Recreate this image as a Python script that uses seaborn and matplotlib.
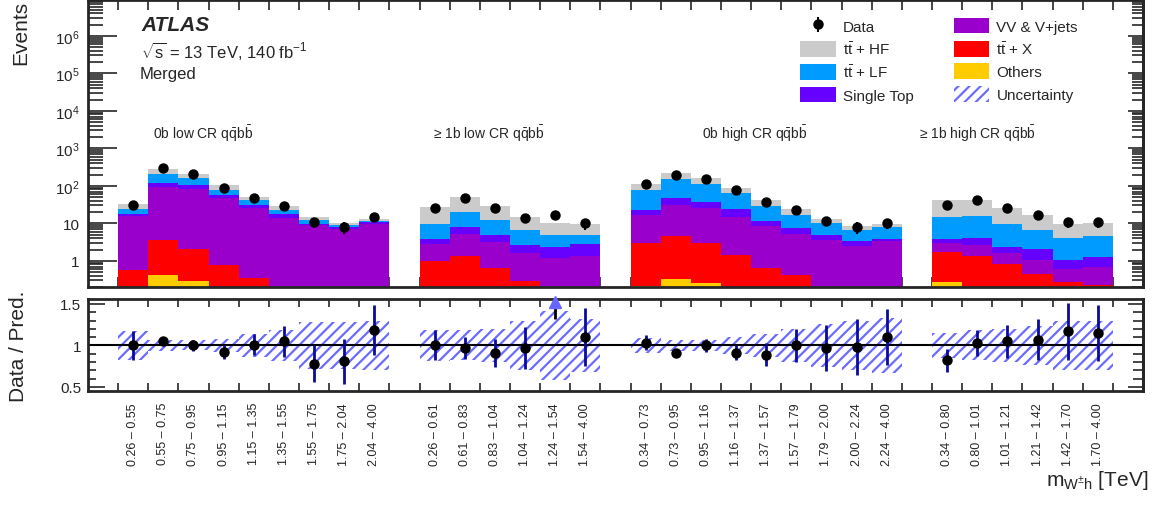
import numpy as np
import pandas as pd
import matplotlib
matplotlib.use('Agg')
import matplotlib.pyplot as plt
from matplotlib.patches import Patch
from matplotlib.ticker import FixedLocator, FuncFormatter, LogLocator, MultipleLocator, NullFormatter
import seaborn as sns

# --- data ---
region_names = ['0b low CR', '\u2265 1b low CR', '0b high CR', '\u2265 1b high CR']
r1_edges = ['0.26', '0.55', '0.75', '0.95', '1.15', '1.35', '1.55', '1.75', '2.04', '4.00']
r2_edges = ['0.26', '0.61', '0.83', '1.04', '1.24', '1.54', '4.00']
r3_edges = ['0.34', '0.73', '0.95', '1.16', '1.37', '1.57', '1.79', '2.00', '2.24', '4.00']
r4_edges = ['0.34', '0.80', '1.01', '1.21', '1.42', '1.70', '4.00']

# per-process yields, bins of the four regions in a row (9 + 6 + 9 + 6)
others = [0, 0.42, 0.29, 0, 0, 0, 0, 0, 0,
          0, 0, 0, 0, 0, 0,
          0.21, 0.33, 0.26, 0, 0, 0, 0, 0, 0,
          0.27, 0, 0, 0, 0, 0]
ttx = [0.58, 3.2, 1.84, 0.78, 0.35, 0, 0, 0, 0,
       0.96, 1.33, 0.64, 0.29, 0, 0,
       2.8, 4.3, 2.74, 1.47, 0.64, 0.42, 0, 0, 0,
       1.46, 1.38, 0.8, 0.45, 0.27, 0.23]
vv = [14.8, 89, 80, 46, 25.3, 14.2, 9.1, 7.1, 9.6,
      1.82, 3.8, 2.5, 1.28, 1.2, 1.33,
      13.7, 25.7, 22.2, 13.3, 7.9, 4.9, 3.7, 2.5, 3.4,
      1.27, 1.2, 0.8, 0.57, 0.35, 0.45]
single_top = [2.0, 26, 23, 11, 5.7, 3.6, 0.7, 0.8, 1.1,
              1.07, 2.9, 1.8, 1.09, 1.2, 1.45,
              6.5, 16.7, 11.8, 9.2, 3.1, 2.2, 1.1, 0.84, 0.4,
              0.85, 1.5, 0.76, 1.06, 0.46, 0.62]
tt_lf = [7.2, 87, 53, 21, 9.6, 5.4, 2.5, 1.2, 1.1,
         5.65, 12.1, 7.4, 3.84, 2.5, 2.1,
         54, 104, 77, 40, 17.4, 9.5, 5.5, 3.36, 4.1,
         11.3, 11.6, 7.1, 4.6, 3.0, 3.2]
tt_hf = [8.8, 74, 48, 26, 10, 5.8, 2.2, 1.2, 1.0,
         17.3, 31, 16.7, 8.3, 5.4, 4.6,
         37, 72, 44, 25, 12, 7.1, 2.5, 1.8, 1.6,
         26, 26, 16, 9.7, 5.5, 5.5]
data = [31.6, 292, 201, 89, 48, 28.5, 10.7, 7.9, 14.8,
        25.7, 48, 25.7, 13.8, 17, 10,
        110, 198, 151, 79, 36.4, 22.7, 11.8, 7.9, 10,
        31.6, 41, 25.7, 17, 10.9, 10.9]
ratio = [1.00, 1.05, 1.00, 0.92, 1.01, 1.05, 0.78, 0.81, 1.19,
         1.00, 0.97, 0.91, 0.97, 1.75, 1.10,
         1.03, 0.91, 1.00, 0.91, 0.89, 1.00, 0.97, 0.98, 1.10,
         0.82, 1.03, 1.05, 1.07, 1.17, 1.15]
ratio_err = [0.17, 0.03, 0.07, 0.08, 0.13, 0.19, 0.22, 0.27, 0.30,
             0.18, 0.13, 0.17, 0.25, 0.43, 0.35,
             0.09, 0.04, 0.08, 0.09, 0.14, 0.20, 0.28, 0.34, 0.34,
             0.14, 0.16, 0.20, 0.25, 0.34, 0.34]
syst = [0.17, 0.07, 0.06, 0.08, 0.14, 0.19, 0.28, 0.28, 0.30,
        0.19, 0.18, 0.20, 0.30, 0.42, 0.32,
        0.09, 0.07, 0.07, 0.10, 0.14, 0.20, 0.26, 0.30, 0.33,
        0.15, 0.18, 0.20, 0.24, 0.30, 0.30]

processes = ['tt_hf', 'tt_lf', 'single_top', 'vv', 'ttx', 'others']  # top -> bottom
colors = {'tt_hf': '#cbcbcb', 'tt_lf': '#009bff', 'single_top': '#6600ff',
          'vv': '#9900cc', 'ttx': '#ff0000', 'others': '#ffcc00'}
labels = {'tt_hf': r'$\mathrm{t\bar{t}}$ + HF', 'tt_lf': r'$\mathrm{t\bar{t}}$ + LF',
          'single_top': 'Single Top', 'vv': 'VV & V+jets',
          'ttx': r'$\mathrm{t\bar{t}}$ + X', 'others': 'Others'}
yields = {'tt_hf': tt_hf, 'tt_lf': tt_lf, 'single_top': single_top,
          'vv': vv, 'ttx': ttx, 'others': others}

# bin positions: one empty bin before each region and one at the end
all_edges = [r1_edges, r2_edges, r3_edges, r4_edges]
pos, ticklabels = [], []
i = 1
for edges in all_edges:
    for lo, hi in zip(edges[:-1], edges[1:]):
        pos.append(i)
        ticklabels.append(f'{lo} \u2013 {hi}')
        i += 1
    i += 1
nbins = i
pos = np.array(pos)

df = pd.DataFrame([{'bin': p, 'process': k, 'events': yields[k][j]}
                   for k in processes for j, p in enumerate(pos)])

# --- style ---
sns.set_theme(style='ticks')
plt.rcParams['font.family'] = ['Liberation Sans', 'DejaVu Sans']
plt.rcParams['mathtext.fontset'] = 'custom'
plt.rcParams['mathtext.rm'] = 'Liberation Sans'
plt.rcParams['mathtext.it'] = 'Liberation Sans:italic'
plt.rcParams['mathtext.bf'] = 'Liberation Sans:bold'
plt.rcParams['hatch.linewidth'] = 1.6
plt.rcParams['hatch.color'] = '#6b6bff'
plt.rcParams['axes.linewidth'] = 2.0

fig = plt.figure(figsize=(11.59, 5.06), dpi=100)
ax = fig.add_axes([0.0759, 0.4308, 0.9103, 0.567])
ax2 = fig.add_axes([0.0759, 0.2253, 0.9103, 0.1818])

# --- upper panel ---
sns.histplot(data=df, x='bin', weights='events', hue='process', hue_order=processes,
             palette=colors, multiple='stack', discrete=True, shrink=1, element='bars',
             alpha=1, linewidth=0, edgecolor='none', legend=False, ax=ax)
ax.set_yscale('log')
data = np.array(data)
ratio = np.array(ratio)
ratio_err = np.array(ratio_err)
data_err = data * ratio_err / ratio
eb = ax.errorbar(pos, data, yerr=data_err, fmt='o', color='black', ms=6.5,
                 elinewidth=1.5, capsize=0, zorder=5)

ax.set_xlim(-0.5, nbins - 0.5)
ax.set_ylim(0.2, 9e6)
ax.set_xlabel('')
ax.set_ylabel('Events', fontsize=15, loc='top')
ax.yaxis.set_label_coords(-0.055, 1.0)

edges_x = np.arange(0.5, nbins - 0.5)
ax.xaxis.set_major_locator(FixedLocator(edges_x))
ax.tick_params(axis='x', which='both', direction='in', length=7, width=1.2,
               top=True, bottom=True, labelbottom=False)
ax.yaxis.set_major_locator(LogLocator(base=10, numticks=20))
ax.yaxis.set_minor_locator(LogLocator(base=10, subs=np.arange(2, 10), numticks=20))
ax.yaxis.set_minor_formatter(NullFormatter())
ax.yaxis.set_major_formatter(FuncFormatter(
    lambda v, _: '1' if abs(v - 1) < 1e-9 else ('10' if abs(v - 10) < 1e-9
                                               else r'$10^{%d}$' % round(np.log10(v)))))
ax.tick_params(axis='y', which='major', direction='in', length=21, width=1.2,
               labelsize=11, pad=6, right=False)
ax.tick_params(axis='y', which='minor', direction='in', length=11, width=1.2, right=False)
sec = ax.secondary_yaxis('right')
sec.yaxis.set_major_locator(LogLocator(base=10, numticks=20))
sec.yaxis.set_minor_locator(LogLocator(base=10, subs=np.arange(2, 10), numticks=20))
sec.yaxis.set_major_formatter(NullFormatter())
sec.yaxis.set_minor_formatter(NullFormatter())
sec.tick_params(axis='y', which='major', direction='in', length=11, width=1.2, labelright=False)
sec.tick_params(axis='y', which='minor', direction='in', length=8, width=1.2, labelright=False)

# region labels
label_x = [1.66, 10.95, 19.87, 27.07]
for name, lx in zip(region_names, label_x):
    ax.text(lx, 2700, name + r' $\mathrm{q\bar{q}b\bar{b}}$', fontsize=10, va='center', ha='left')

ax.text(0.051, 0.915, 'ATLAS', transform=ax.transAxes, fontsize=15,
        fontweight='bold', fontstyle='italic', va='center')
ax.text(0.050, 0.827, r'$\sqrt{\mathrm{s}}$ = 13 TeV, 140 fb$^{\mathrm{-1}}$',
        transform=ax.transAxes, fontsize=12, va='center')
ax.text(0.049, 0.745, 'Merged', transform=ax.transAxes, fontsize=12, va='center')

handles = [eb] + [Patch(facecolor=colors[k], edgecolor='none') for k in processes[:3]]
handles += [Patch(facecolor=colors[k], edgecolor='none') for k in ['vv', 'ttx', 'others']]
handles += [Patch(facecolor='none', edgecolor='#6b6bff', linewidth=0, hatch='///')]
leg_labels = ['Data'] + [labels[k] for k in processes[:3]]
leg_labels += [labels[k] for k in ['vv', 'ttx', 'others']] + ['Uncertainty']
ax.legend(handles, leg_labels, ncol=2, loc='upper left', bbox_to_anchor=(0.668, 0.965),
          frameon=False, fontsize=11, handlelength=2.3, handleheight=1.2,
          labelspacing=0.42, handletextpad=0.5, columnspacing=2.6, borderpad=0)

# --- ratio panel ---
syst = np.array(syst)
ax2.bar(pos, 2 * syst, bottom=1 - syst, width=1, facecolor='none',
        edgecolor='#6b6bff', linewidth=0, hatch='///', zorder=1)
ax2.axhline(1, color='black', lw=1.5, zorder=2)
ymax2 = 1.56
ok = ratio < ymax2
ax2.errorbar(pos[ok], ratio[ok], yerr=ratio_err[ok], fmt='o', color='black',
             ecolor='#0a0a9c', ms=6.5, elinewidth=2, capsize=0, zorder=5)
for p, r, e in zip(pos[~ok], ratio[~ok], ratio_err[~ok]):
    ax2.vlines(p, r - e, 1.45, color='black', lw=2, zorder=5)
    ax2.plot(p, 1.52, marker='^', color='#6666ff', ms=9, clip_on=False, zorder=6)

ax2.set_xlim(-0.5, nbins - 0.5)
ax2.set_ylim(0.45, ymax2)
ax2.set_xticks(pos)
ax2.set_xticklabels(ticklabels, rotation=90, fontsize=9)
ax2.tick_params(axis='x', which='major', length=0, pad=8)
ax2.set_xticks(edges_x, minor=True)
ax2.tick_params(axis='x', which='minor', direction='in', length=6, width=1.2, top=True, bottom=True)
ax2.set_yticks([0.5, 1, 1.5])
ax2.set_yticklabels(['0.5', '1', '1.5'])
ax2.yaxis.set_minor_locator(MultipleLocator(0.1))
ax2.tick_params(axis='y', which='major', direction='in', length=12, width=1.2,
                labelsize=11, pad=5, right=False)
ax2.tick_params(axis='y', which='minor', direction='in', length=6, width=1.2, right=False)
sec2 = ax2.secondary_yaxis('right')
sec2.set_yticks([0.5, 1, 1.5])
sec2.yaxis.set_major_formatter(NullFormatter())
sec2.yaxis.set_minor_locator(MultipleLocator(0.1))
sec2.tick_params(axis='y', which='major', direction='in', length=11, width=1.2, labelright=False)
sec2.tick_params(axis='y', which='minor', direction='in', length=7, width=1.2, labelright=False)
ax2.set_ylabel('Data / Pred.', fontsize=15)
ax2.yaxis.set_label_coords(-0.057, 0.5)
ax2.set_xlabel(r'$\mathrm{m_{W^{\pm}h}}$ [TeV]', fontsize=15, loc='right')
ax2.xaxis.set_label_coords(1.005, -0.84)

fig.savefig('out.png', dpi=100)
